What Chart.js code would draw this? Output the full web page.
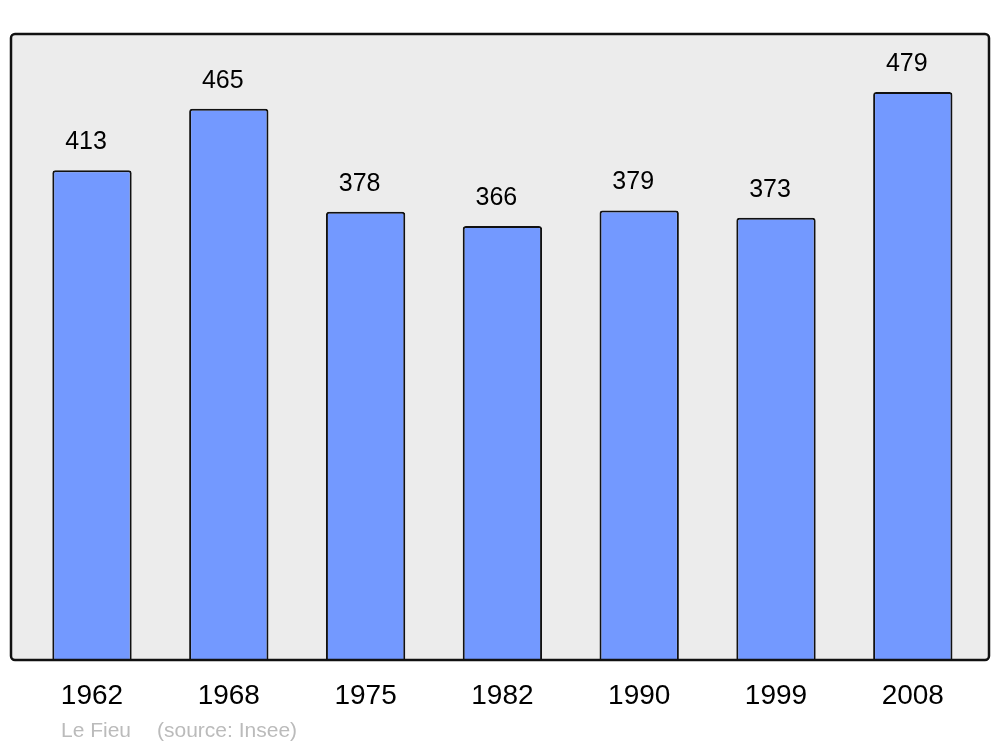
<!DOCTYPE html>
<html>
<head>
<meta charset="utf-8">
<script src="https://cdn.jsdelivr.net/npm/chart.js@4/dist/chart.umd.min.js"></script>
<style>
  html, body { margin: 0; padding: 0; background: #fff; }
  canvas { display: block; }
</style>
</head>
<body>
<canvas id="chartPop" width="1000" height="747"></canvas>
<script>
// données
const annees = ["1962", "1968", "1975", "1982", "1990", "1999", "2008"];
const population = [413, 465, 378, 366, 379, 373, 479];
const commune = "Le Fieu";
const source = "(source: Insee)";

const FONT = "'Liberation Sans', Arial, sans-serif";

/* fond gris + cadre noir autour de la zone du graphique */
const cadrePlugin = {
  id: "cadre",
  beforeDatasetsDraw(chart) {
    const { ctx } = chart;
    ctx.save();
    ctx.fillStyle = "#ececec";
    ctx.beginPath();
    ctx.roundRect(11, 34, 978, 626, 4);
    ctx.fill();
    ctx.restore();
  },
  afterDatasetsDraw(chart) {
    const { ctx } = chart;
    ctx.save();
    ctx.strokeStyle = "#111";
    ctx.lineWidth = 2.5;
    ctx.beginPath();
    ctx.roundRect(11, 34, 978, 626, 4);
    ctx.stroke();

    // valeurs au-dessus des barres
    const meta = chart.getDatasetMeta(0);
    ctx.fillStyle = "#000";
    ctx.font = "25px " + FONT;
    ctx.textAlign = "center";
    ctx.textBaseline = "middle";
    meta.data.forEach((bar, i) => {
      ctx.fillText(String(population[i]), bar.x - 6, bar.y - 28);
    });

    // pied de page
    ctx.fillStyle = "#bbbbbb";
    ctx.font = "21px " + FONT;
    ctx.textAlign = "left";
    ctx.fillText(commune, 61, 731);
    ctx.fillText(source, 157, 731);
    ctx.restore();
  }
};

new Chart(document.getElementById("chartPop"), {
  type: "bar",
  data: {
    labels: annees,
    datasets: [
      {
        data: population,
        backgroundColor: "#7399ff",
        borderColor: "#111",
        borderWidth: 2,
        borderRadius: { topLeft: 3, topRight: 3 },
        borderSkipped: "bottom",
        barPercentage: 0.58,
        categoryPercentage: 1
      }
    ]
  },
  options: {
    responsive: false,
    animation: false,
    layout: {
      padding: { left: 23.6, right: 18.8, top: 34, bottom: 13.6 }
    },
    plugins: {
      legend: { display: false },
      tooltip: { enabled: false }
    },
    scales: {
      x: {
        grid: { display: false, drawTicks: false },
        border: { display: false },
        ticks: {
          color: "#000",
          padding: 20,
          font: { family: FONT, size: 28 }
        }
      },
      y: {
        display: false,
        min: 0,
        max: 528
      }
    }
  },
  plugins: [cadrePlugin]
});
</script>
</body>
</html>
